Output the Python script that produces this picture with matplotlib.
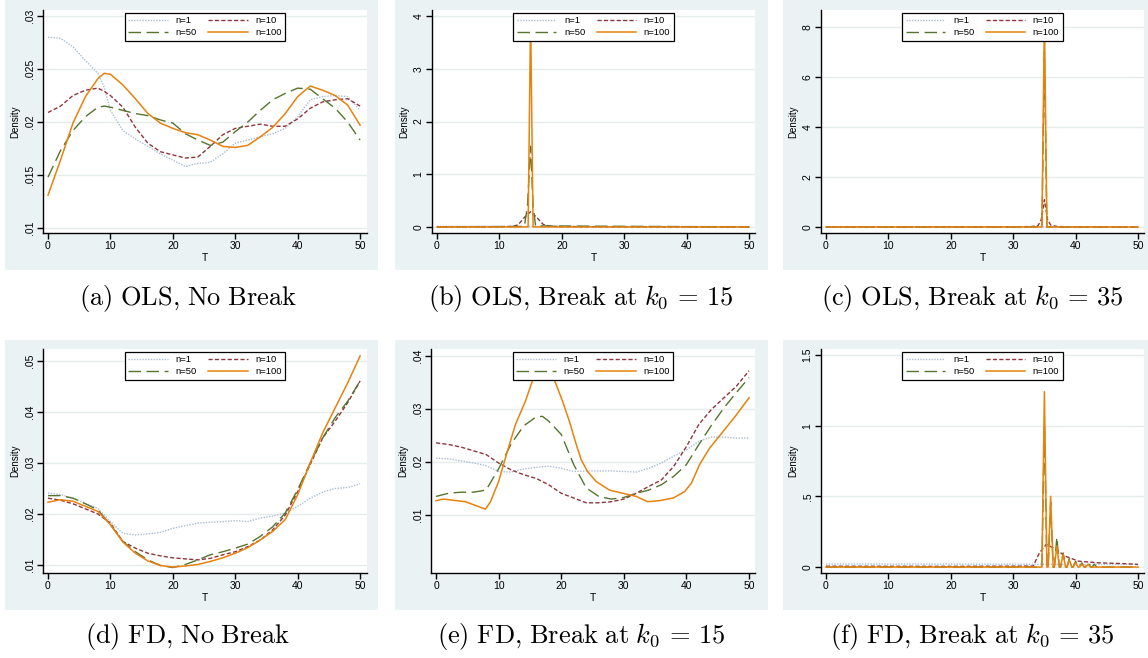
import matplotlib
matplotlib.use("Agg")
import matplotlib.pyplot as plt
from matplotlib.patches import Rectangle

plt.rcParams['font.family'] = ['Liberation Sans', 'DejaVu Sans']
plt.rcParams['mathtext.fontset'] = 'cm'

# ---- (a) OLS, no break ----
t_a = [0, 2, 4, 6, 8, 9, 10, 12, 14, 16, 18, 20, 22, 24, 26, 28, 30, 32, 34, 36, 38, 40, 42, 44, 46, 48, 50]
a_n1 = [0.0280, 0.0279, 0.0271, 0.0258, 0.0246, 0.0233, 0.0211, 0.0192, 0.0184, 0.0177, 0.0170, 0.0164, 0.0158,
        0.0161, 0.0162, 0.0170, 0.0180, 0.0183, 0.0186, 0.0189, 0.0194, 0.0205, 0.0221, 0.0224, 0.0225, 0.0224, 0.0211]
a_n10 = [0.0209, 0.0215, 0.0225, 0.0230, 0.0232, 0.0229, 0.0225, 0.0214, 0.0195, 0.0180, 0.0172, 0.0169, 0.0166,
         0.0167, 0.0177, 0.0188, 0.0194, 0.0196, 0.0198, 0.0196, 0.0196, 0.0203, 0.0213, 0.0219, 0.0221, 0.0222, 0.0215]
a_n50 = [0.0148, 0.0173, 0.0192, 0.0205, 0.0214, 0.0215, 0.0214, 0.0211, 0.0208, 0.0206, 0.0202, 0.0199, 0.0189,
         0.0183, 0.0178, 0.0181, 0.0191, 0.0200, 0.0211, 0.0221, 0.0227, 0.0232, 0.0231, 0.0222, 0.0213, 0.0200, 0.0183]
a_n100 = [0.0131, 0.0164, 0.0199, 0.0224, 0.0241, 0.0246, 0.0245, 0.0235, 0.0222, 0.0208, 0.0199, 0.0194, 0.0190,
          0.0188, 0.0183, 0.0177, 0.0176, 0.0178, 0.0186, 0.0195, 0.0208, 0.0224, 0.0234, 0.0230, 0.0225, 0.0216, 0.0197]

# ---- (b) OLS, break at 15 ----
b_t1 = [0, 10, 20, 30, 40, 50]
b_n1 = [0.012, 0.013, 0.012, 0.010, 0.009, 0.008]
b_t10 = [0, 10, 12, 13, 14, 15, 16, 17, 18, 20, 30, 50]
b_n10 = [0.002, 0.005, 0.01, 0.04, 0.18, 0.29, 0.18, 0.05, 0.015, 0.008, 0.003, 0.001]
b_t50 = [0, 14.0, 14.5, 15.0, 15.4, 15.8, 50]
b_n50 = [0.002, 0.01, 0.4, 1.53, 0.4, 0.02, 0.001]
b_t100 = [0, 14.6, 15.0, 15.4, 50]
b_n100 = [0.001, 0.001, 4.0, 0.001, 0.001]

# ---- (c) OLS, break at 35 ----
c_t1 = [0, 10, 20, 30, 40, 50]
c_n1 = [0.012, 0.012, 0.011, 0.010, 0.009, 0.008]
c_t10 = [0, 30, 33, 34, 34.5, 35, 35.5, 36, 37, 40, 50]
c_n10 = [0.002, 0.005, 0.02, 0.06, 0.3, 1.09, 0.3, 0.08, 0.02, 0.005, 0.002]
c_t50 = [0, 34.6, 35.0, 35.4, 50]
c_n50 = [0.001, 0.001, 7.0, 0.001, 0.001]
c_t100 = [0, 34.6, 35.0, 35.4, 50]
c_n100 = [0.001, 0.001, 8.4, 0.001, 0.001]

# ---- (d) FD, no break ----
t_d = [0, 2, 4, 6, 8, 10, 12, 14, 16, 18, 20, 22, 24, 26, 28, 30, 32, 34, 36, 38, 40, 42, 44, 46, 48, 50]
d_n1 = [0.0241, 0.0238, 0.0231, 0.0221, 0.0211, 0.0185, 0.0162, 0.0159, 0.0161, 0.0164, 0.0172, 0.0177, 0.0182,
        0.0184, 0.0185, 0.0187, 0.0185, 0.0192, 0.0196, 0.0202, 0.0215, 0.0231, 0.0243, 0.0250, 0.0252, 0.0259]
d_n10 = [0.0231, 0.0227, 0.0220, 0.0210, 0.0200, 0.0182, 0.0146, 0.0133, 0.0123, 0.0118, 0.0114, 0.0112, 0.0110,
         0.0113, 0.0120, 0.0126, 0.0136, 0.0149, 0.0169, 0.0198, 0.0244, 0.0297, 0.0349, 0.0382, 0.0418, 0.0461]
d_n50 = [0.0236, 0.0236, 0.0231, 0.0220, 0.0208, 0.0179, 0.0146, 0.0126, 0.0110, 0.0099, 0.0095, 0.0101, 0.0110,
         0.0120, 0.0126, 0.0133, 0.0141, 0.0156, 0.0175, 0.0202, 0.0248, 0.0300, 0.0349, 0.0389, 0.0421, 0.0461]
d_n100 = [0.0223, 0.0228, 0.0225, 0.0215, 0.0205, 0.0179, 0.0145, 0.0123, 0.0108, 0.0099, 0.0096, 0.0098, 0.0101,
          0.0107, 0.0114, 0.0123, 0.0134, 0.0149, 0.0166, 0.0189, 0.0238, 0.0300, 0.0359, 0.0408, 0.0457, 0.0510]

# ---- (e) FD, break at 15 ----
e_t1 = [0, 2, 4, 6, 8, 10, 12, 14, 16, 18, 20, 22, 24, 26, 28, 30, 32, 34, 36, 38, 40, 42, 44, 46, 48, 50]
e_n1 = [0.0207, 0.0206, 0.0202, 0.0198, 0.0193, 0.0182, 0.0181, 0.0187, 0.0190, 0.0192, 0.0188, 0.0182, 0.0183,
        0.0183, 0.0183, 0.0182, 0.0181, 0.0188, 0.0198, 0.0211, 0.0223, 0.0239, 0.0247, 0.0247, 0.0245, 0.0245]
e_n10 = [0.0236, 0.0233, 0.0228, 0.0221, 0.0214, 0.0198, 0.0185, 0.0176, 0.0169, 0.0157, 0.0141, 0.0132, 0.0123,
         0.0123, 0.0125, 0.0130, 0.0141, 0.0154, 0.0166, 0.0192, 0.0229, 0.0271, 0.0299, 0.0321, 0.0343, 0.0372]
e_t50 = [0, 2, 4, 6, 8, 10, 12, 14, 16, 17, 18, 20, 22, 24, 26, 28, 30, 32, 34, 36, 38, 40, 42, 44, 46, 48, 50]
e_n50 = [0.0135, 0.0141, 0.0143, 0.0143, 0.0147, 0.0187, 0.0234, 0.0268, 0.0285, 0.0286, 0.0277, 0.0252, 0.0195,
         0.0151, 0.0135, 0.0130, 0.0133, 0.0141, 0.0147, 0.0157, 0.0173, 0.0195, 0.0233, 0.0269, 0.0302, 0.0331, 0.0359]
e_t100 = [0, 1.2, 4.7, 7.9, 8.7, 10, 11.4, 12.7, 14.3, 15.4, 16.3, 17.2, 18.2, 19.1, 20.2, 21.3, 22.4, 23.2, 24.2,
          25.6, 27.7, 29.8, 32, 33.8, 35.7, 37.9, 39.7, 40.8, 42.1, 43.7, 45.9, 48, 50]
e_n100 = [0.0127, 0.0130, 0.0125, 0.0111, 0.0125, 0.0163, 0.0220, 0.0271, 0.0315, 0.0353, 0.0375, 0.0385, 0.0373,
          0.0349, 0.0315, 0.0277, 0.0233, 0.0204, 0.0182, 0.0163, 0.0147, 0.0141, 0.0135, 0.0125, 0.0127, 0.0132,
          0.0144, 0.0160, 0.0195, 0.0226, 0.0258, 0.0289, 0.0321]

# ---- (f) FD, break at 35 ----
f_t1 = [0, 20, 33, 40, 50]
f_n1 = [0.022, 0.021, 0.020, 0.019, 0.018]
f_t10 = [0, 20, 33.2, 34.2, 35.3, 36.9, 38.2, 40.4, 43.6, 47.9, 50]
f_n10 = [0.006, 0.005, 0.007, 0.10, 0.16, 0.125, 0.08, 0.042, 0.030, 0.024, 0.019]
f_t50 = [0, 34.6, 35, 35.4, 35.6, 36, 36.4, 36.6, 37, 37.4, 37.6, 38, 38.4, 38.6, 39, 39.4, 39.6, 40, 40.4,
         40.6, 41, 41.4, 41.6, 42, 42.4, 42.6, 43, 43.4, 43.6, 44, 44.4, 50]
f_n50 = [0.0, 0.0, 1.01, 0.0, 0.0, 0.46, 0.0, 0.0, 0.21, 0.0, 0.0, 0.10, 0.0, 0.0, 0.06, 0.0, 0.0, 0.04, 0.0,
         0.0, 0.03, 0.0, 0.0, 0.035, 0.0, 0.0, 0.02, 0.0, 0.0, 0.01, 0.0, 0.0]
f_t100 = [0, 34.6, 35, 35.4, 35.6, 36, 36.4, 36.6, 37, 37.4, 37.6, 38, 38.4, 38.6, 39, 39.4, 39.6, 40, 40.4,
          40.6, 41, 41.4, 41.6, 42, 42.4, 50]
f_n100 = [0.0, 0.0, 1.24, 0.0, 0.0, 0.50, 0.0, 0.0, 0.15, 0.0, 0.0, 0.09, 0.0, 0.0, 0.05, 0.0, 0.0, 0.03, 0.0,
          0.0, 0.02, 0.0, 0.0, 0.02, 0.0, 0.0]

x_ticks = [0, 10, 20, 30, 40, 50]
labels = ['n=1', 'n=10', 'n=50', 'n=100']
captions = [r'$\mathrm{(a)\ OLS{,}\ No\ Break}$',
            r'$\mathrm{(b)\ OLS{,}\ Break\ at\ }k_0\,=\,15$',
            r'$\mathrm{(c)\ OLS{,}\ Break\ at\ }k_0\,=\,35$',
            r'$\mathrm{(d)\ FD{,}\ No\ Break}$',
            r'$\mathrm{(e)\ FD{,}\ Break\ at\ }k_0\,=\,15$',
            r'$\mathrm{(f)\ FD{,}\ Break\ at\ }k_0\,=\,35$']

styles = [dict(color='#a9bdd3', ls=(0, (1, 1)), lw=1.0),
          dict(color='#90353b', ls=(0, (3, 1.6)), lw=1.0),
          dict(color='#55752f', ls=(0, (9, 4)), lw=1.0),
          dict(color='#e8820c', ls='-', lw=1.1)]

W, H = 1148, 658
fig = plt.figure(figsize=(W / 100, H / 100), dpi=100)

def px_axes(x0, y0, x1, y1):
    ax = fig.add_axes([x0 / W, 1 - y1 / H, (x1 - x0) / W, (y1 - y0) / H])
    ax.set_facecolor('white')
    ax.set_zorder(2)
    return ax

def grey_box(x0, y0, x1, y1):
    fig.patches.append(Rectangle((x0 / W, 1 - y1 / H), (x1 - x0) / W, (y1 - y0) / H,
                                 transform=fig.transFigure, facecolor='#eaf2f3', edgecolor='none', zorder=-5))

# panel boxes (grey region), plot boxes, y limits, y ticks
panels = [
    dict(box=(5, 0, 378, 270), ax=(43, 10, 367, 233), xlim=(-0.8, 51.1), ylim=(0.00953, 0.03057),
         yt=[0.01, 0.015, 0.02, 0.025, 0.03], ytl=['.01', '.015', '.02', '.025', '.03'],
         data=[(t_a, a_n1), (t_a, a_n10), (t_a, a_n50), (t_a, a_n100)]),
    dict(box=(395, 0, 768, 270), ax=(432, 10, 755, 233), xlim=(-0.8, 50.96), ylim=(-0.114, 4.114),
         yt=[0, 1, 2, 3, 4], ytl=['0', '1', '2', '3', '4'],
         data=[(b_t1, b_n1), (b_t10, b_n10), (b_t50, b_n50), (b_t100, b_n100)]),
    dict(box=(783, 0, 1148, 270), ax=(821, 10, 1144, 233), xlim=(-0.8, 50.96), ylim=(-0.24, 8.68),
         yt=[0, 2, 4, 6, 8], ytl=['0', '2', '4', '6', '8'],
         data=[(c_t1, c_n1), (c_t10, c_n10), (c_t50, c_n50), (c_t100, c_n100)]),
    dict(box=(5, 340, 378, 610), ax=(43, 349, 367, 573), xlim=(-0.8, 51.1), ylim=(0.00843, 0.05235),
         yt=[0.01, 0.02, 0.03, 0.04, 0.05], ytl=['.01', '.02', '.03', '.04', '.05'],
         data=[(t_d, d_n1), (t_d, d_n10), (t_d, d_n50), (t_d, d_n100)]),
    dict(box=(395, 340, 768, 610), ax=(431, 349, 755, 573), xlim=(-0.8, 50.96), ylim=(-0.00094, 0.0413),
         yt=[0.01, 0.02, 0.03, 0.04], ytl=['.01', '.02', '.03', '.04'],
         data=[(e_t1, e_n1), (e_t1, e_n10), (e_t50, e_n50), (e_t100, e_n100)]),
    dict(box=(783, 340, 1148, 610), ax=(821, 349, 1144, 573), xlim=(-0.8, 50.96), ylim=(-0.042, 1.542),
         yt=[0, 0.5, 1, 1.5], ytl=['0', '.5', '1', '1.5'],
         data=[(f_t1, f_n1), (f_t10, f_n10), (f_t50, f_n50), (f_t100, f_n100)]),
]
caption_pos = [(188, 298), (581, 298), (972, 298), (188, 637), (581, 637), (972, 637)]

for p, cap, (cx, cy) in zip(panels, captions, caption_pos):
    grey_box(*p['box'])
    ax = px_axes(*p['ax'])
    handles = []
    for (tx, ty), st, lab in zip(p['data'], styles, labels):
        h, = ax.plot(tx, ty, label=lab, **st)
        handles.append(h)
    ax.set_xlim(*p['xlim'])
    ax.set_ylim(*p['ylim'])
    ax.set_xticks(x_ticks)
    ax.set_yticks(p['yt'])
    ax.set_yticklabels(p['ytl'], rotation=90, va='center')
    ax.yaxis.grid(True, color='#e4eced', lw=1.0)
    ax.set_axisbelow(True)
    for s in ['top', 'right']:
        ax.spines[s].set_visible(False)
    for s in ['left', 'bottom']:
        ax.spines[s].set_color('black')
        ax.spines[s].set_linewidth(1.0)
    ax.tick_params(direction='out', length=4, width=1, labelsize=7.5, pad=2, colors='black')
    ax.set_xlabel('T', fontsize=7.5, labelpad=1)
    ax.set_ylabel('Density', fontsize=7, labelpad=3)
    # legend in two rows: n=1, n=10 / n=50, n=100
    order = [handles[0], handles[2], handles[1], handles[3]]
    leg = ax.legend(order, [h.get_label() for h in order], ncol=2, loc='upper center',
                    bbox_to_anchor=(0.5, 0.986), fontsize=6.8, frameon=True, fancybox=False,
                    edgecolor='black', facecolor='white', framealpha=1, borderpad=0.35, handlelength=4.2,
                    columnspacing=1.2, handletextpad=0.8, labelspacing=0.3, borderaxespad=0)
    leg.get_frame().set_linewidth(0.9)
    leg.set_zorder(10)
    fig.text(cx / W, 1 - cy / H, cap, fontsize=19, ha='center', va='center')

fig.savefig('out.png', dpi=100)
